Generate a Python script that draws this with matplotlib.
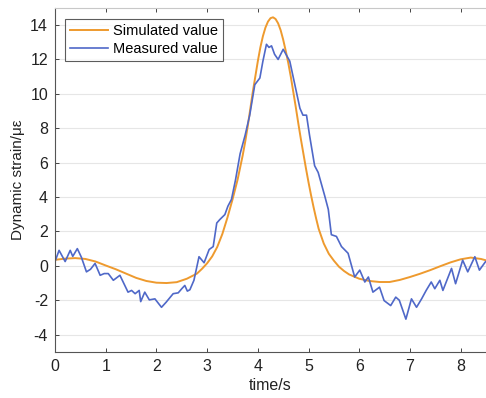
import matplotlib
matplotlib.use('Agg')
import matplotlib.pyplot as plt
import numpy as np

plt.rcParams['font.family'] = ['Liberation Sans', 'DejaVu Sans']
plt.rcParams['axes.unicode_minus'] = False

# Simulated (smooth) curve
t_sim = [0.0, 0.2, 0.4, 0.6, 0.8, 1.0, 1.2, 1.4, 1.6, 1.8, 2.0, 2.2, 2.4, 2.6,
         2.8, 2.9, 3.0, 3.1, 3.2, 3.3, 3.4, 3.5, 3.6, 3.7, 3.75, 3.8, 3.85, 3.9,
         3.95, 4.0, 4.05, 4.1, 4.15, 4.2, 4.25, 4.3, 4.35, 4.4, 4.45, 4.5, 4.55,
         4.6, 4.65, 4.7, 4.75, 4.8, 4.85, 4.9, 4.95, 5.0, 5.05, 5.1, 5.15, 5.2,
         5.3, 5.4, 5.5, 5.6, 5.7, 5.8, 6.0, 6.2, 6.4, 6.6, 6.8, 7.0, 7.2, 7.4,
         7.6, 7.8, 8.0, 8.2, 8.4, 8.5]
v_sim = [0.35, 0.42, 0.45, 0.4, 0.25, 0.02, -0.2, -0.45, -0.7, -0.88, -0.98, -1.0,
         -0.95, -0.75, -0.45, -0.17, 0.15, 0.55, 1.1, 1.85, 2.8, 3.85, 5.0, 6.4,
         7.2, 8.1, 9.1, 10.1, 11.0, 11.9, 12.7, 13.35, 13.85, 14.2, 14.4, 14.45,
         14.35, 14.1, 13.7, 13.15, 12.5, 11.8, 11.0, 10.1, 9.2, 8.25, 7.35, 6.5,
         5.65, 4.85, 4.1, 3.4, 2.75, 2.15, 1.3, 0.7, 0.3, -0.05, -0.3, -0.5,
         -0.75, -0.88, -0.94, -0.94, -0.82, -0.65, -0.46, -0.25, -0.02, 0.2,
         0.38, 0.48, 0.4, 0.32]

# Measured curve
t_meas = [0.00, 0.08, 0.20, 0.30, 0.35, 0.44, 0.52, 0.62, 0.70, 0.79, 0.89, 0.97,
          1.05, 1.15, 1.28, 1.44, 1.51, 1.58, 1.66, 1.69, 1.77, 1.86, 1.97, 2.10,
          2.19, 2.33, 2.43, 2.50, 2.56, 2.61, 2.66, 2.74, 2.84, 2.94, 3.04, 3.12,
          3.19, 3.25, 3.35, 3.41, 3.48, 3.56, 3.65, 3.75, 3.84, 3.94, 4.04, 4.10,
          4.17, 4.22, 4.27, 4.33, 4.40, 4.50, 4.63, 4.73, 4.83, 4.89, 4.96, 5.02,
          5.12, 5.19, 5.32, 5.39, 5.45, 5.55, 5.65, 5.78, 5.91, 6.01, 6.11, 6.18,
          6.27, 6.40, 6.49, 6.62, 6.72, 6.79, 6.92, 7.03, 7.13, 7.23, 7.32, 7.42,
          7.49, 7.59, 7.65, 7.82, 7.90, 8.04, 8.14, 8.28, 8.37, 8.49]
v_meas = [0.25, 0.9, 0.25, 0.9, 0.55, 1.0, 0.5, -0.35, -0.2, 0.14, -0.55, -0.45,
          -0.45, -0.84, -0.55, -1.53, -1.43, -1.62, -1.43, -2.08, -1.53, -1.98,
          -1.92, -2.41, -2.12, -1.62, -1.57, -1.33, -1.14, -1.47, -1.39, -0.84,
          0.53, 0.18, 0.95, 1.12, 2.49, 2.69, 2.98, 3.47, 3.86, 5.0, 6.51, 7.6,
          8.76, 10.53, 10.92, 11.9, 12.88, 12.7, 12.79, 12.3, 12.0, 12.59, 11.9,
          10.53, 9.16, 8.76, 8.76, 7.59, 5.82, 5.43, 4.06, 3.28, 1.81, 1.71, 1.12,
          0.73, -0.65, -0.25, -0.94, -0.65, -1.53, -1.24, -2.02, -2.31, -1.82,
          -2.0, -3.1, -1.92, -2.41, -1.92, -1.43, -0.94, -1.33, -0.84, -1.43,
          -0.15, -1.04, 0.33, -0.35, 0.53, -0.25, 0.24]

fig = plt.figure(figsize=(4.86, 3.98), dpi=100)
ax = fig.add_axes([0.1132, 0.1160, 0.8868, 0.8643])

ax.plot(t_sim, v_sim, color='#EE9A2E', lw=1.4, label='Simulated value')
ax.plot(t_meas, v_meas, color='#4F68C8', lw=1.2, label='Measured value')

ax.set_xlim(0, 8.5)
ax.set_ylim(-5, 15)
ax.set_xticks(np.arange(0, 9, 1))
ax.set_yticks(np.arange(-4, 15, 2))
ax.grid(True, axis='y', color='#e6e6e6', lw=0.8)
ax.set_axisbelow(True)

ax.tick_params(direction='in', length=3, width=0.7, colors='#444444',
               labelcolor='#222222', labelsize=11.5, top=True, right=False, pad=5)
for side in ['left', 'bottom']:
    ax.spines[side].set_color('#555555')
    ax.spines[side].set_linewidth(0.8)
ax.spines['top'].set_color('#c8c8c8')
ax.spines['right'].set_visible(False)

ax.set_xlabel('time/s', fontsize=11.5, color='#222222', labelpad=3)
ax.set_ylabel('Dynamic strain/με', fontsize=11, color='#222222', labelpad=4)

leg = ax.legend(loc='upper left', fontsize=10.5, frameon=True, fancybox=False,
                borderpad=0.35, handlelength=2.6, handletextpad=0.35,
                labelspacing=0.3, borderaxespad=0, bbox_to_anchor=(0.023, 0.968))
leg.get_frame().set_edgecolor('#333333')
leg.get_frame().set_linewidth(0.8)

fig.savefig('out.png', dpi=100)
